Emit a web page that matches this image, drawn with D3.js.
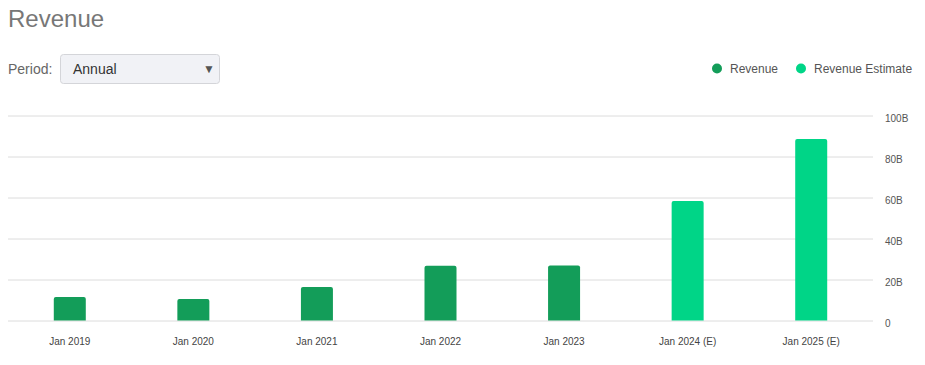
<!DOCTYPE html>
<html>
<head>
<meta charset="utf-8">
<script src="https://cdn.jsdelivr.net/npm/d3@7"></script>
<style>
  html, body { margin: 0; padding: 0; background: #fff; }
  svg { display: block; font-family: "Liberation Sans", Arial, sans-serif; }
</style>
</head>
<body>
<svg id="chart" width="925" height="365"></svg>
<script>
// chart data
var categories = ['Jan 2019', 'Jan 2020', 'Jan 2021', 'Jan 2022', 'Jan 2023', 'Jan 2024 (E)', 'Jan 2025 (E)']
var revenue    = [11.5, 10.5, 16.3, 26.7, 26.8, null, null]   // billions
var estimate   = [null, null, null, null, null, 58.3, 88.5]   // billions
var yTicks     = [0, 20, 40, 60, 80, 100]
var yTickLabels = ['0', '20B', '40B', '60B', '80B', '100B']

var colors = { revenue: '#139d59', estimate: '#00d587' }

var svg = d3.select('#chart')

// title + period picker
svg.append('text')
  .attr('x', 8).attr('y', 27)
  .attr('font-size', 24).attr('fill', '#777')
  .text('Revenue')

svg.append('text')
  .attr('x', 8).attr('y', 74)
  .attr('font-size', 14).attr('fill', '#666')
  .text('Period:')

svg.append('rect')
  .attr('x', 60.5).attr('y', 54.5)
  .attr('width', 159).attr('height', 29)
  .attr('rx', 3)
  .attr('fill', '#f1f2f6').attr('stroke', '#d4d5d9')

svg.append('text')
  .attr('x', 73).attr('y', 74)
  .attr('font-size', 14).attr('fill', '#333')
  .text('Annual')

svg.append('text')
  .attr('x', 209).attr('y', 73)
  .attr('font-size', 12).attr('fill', '#555')
  .attr('text-anchor', 'middle')
  .text('\u25BC')

// legend
var legend = [
  { name: 'Revenue', color: colors.revenue, x: 717 },
  { name: 'Revenue Estimate', color: colors.estimate, x: 801 }
]
var lg = svg.append('g').attr('class', 'legend')
  .selectAll('g').data(legend).enter().append('g')
lg.append('circle')
  .attr('cx', function(d){ return d.x })
  .attr('cy', 68.5)
  .attr('r', 5)
  .attr('fill', function(d){ return d.color })
lg.append('text')
  .attr('x', function(d){ return d.x + 13 })
  .attr('y', 73)
  .attr('font-size', 12).attr('fill', '#555')
  .text(function(d){ return d.name })

// scales
var x = d3.scaleBand()
  .domain(categories)
  .range([8, 873])
  .padding(0)

var y = d3.scaleLinear()
  .domain([0, 100])
  .range([320.5, 115.5])

var barW = 32

// gridlines + right axis
var yAxis = d3.axisRight(y)
  .tickValues(yTicks)
  .tickSize(-(873 - 8))
  .tickPadding(12)
  .tickFormat(function(d, i){ return yTickLabels[i] })

var ga = svg.append('g')
  .attr('transform', 'translate(873,0)')
  .call(yAxis)
ga.select('.domain').remove()
ga.selectAll('.tick line').attr('stroke', '#dcdcdc').attr('stroke-width', 1)
ga.selectAll('.tick text')
  .attr('font-size', 10).attr('fill', '#555')
  .attr('font-family', '"Liberation Sans", Arial, sans-serif')
  .attr('dy', '0.55em')

// bars (rounded top corners)
function barPath(cx, v){
  var x0 = cx - barW / 2, x1 = cx + barW / 2
  var yt = y(v), yb = y(0), r = 2
  return 'M' + x0 + ',' + yb +
    'V' + (yt + r) + 'Q' + x0 + ',' + yt + ' ' + (x0 + r) + ',' + yt +
    'H' + (x1 - r) + 'Q' + x1 + ',' + yt + ' ' + x1 + ',' + (yt + r) +
    'V' + yb + 'Z'
}

var rows = categories.map(function(c, i){
  var isEst = revenue[i] == null
  return { cat: c, value: isEst ? estimate[i] : revenue[i], est: isEst }
})

svg.append('g').attr('class', 'bars')
  .selectAll('path').data(rows).enter().append('path')
  .attr('d', function(d){ return barPath(x(d.cat) + x.bandwidth() / 2, d.value) })
  .attr('fill', function(d){ return d.est ? colors.estimate : colors.revenue })

// x axis labels
var xAxis = d3.axisBottom(x).tickSize(0).tickPadding(0)
var gx = svg.append('g')
  .attr('transform', 'translate(0,344.5)')
  .call(xAxis)
gx.select('.domain').remove()
gx.selectAll('.tick text')
  .attr('font-size', 10).attr('fill', '#444')
  .attr('font-family', '"Liberation Sans", Arial, sans-serif')
  .attr('dy', 0)
  .attr('y', 0)
</script>
</body>
</html>
